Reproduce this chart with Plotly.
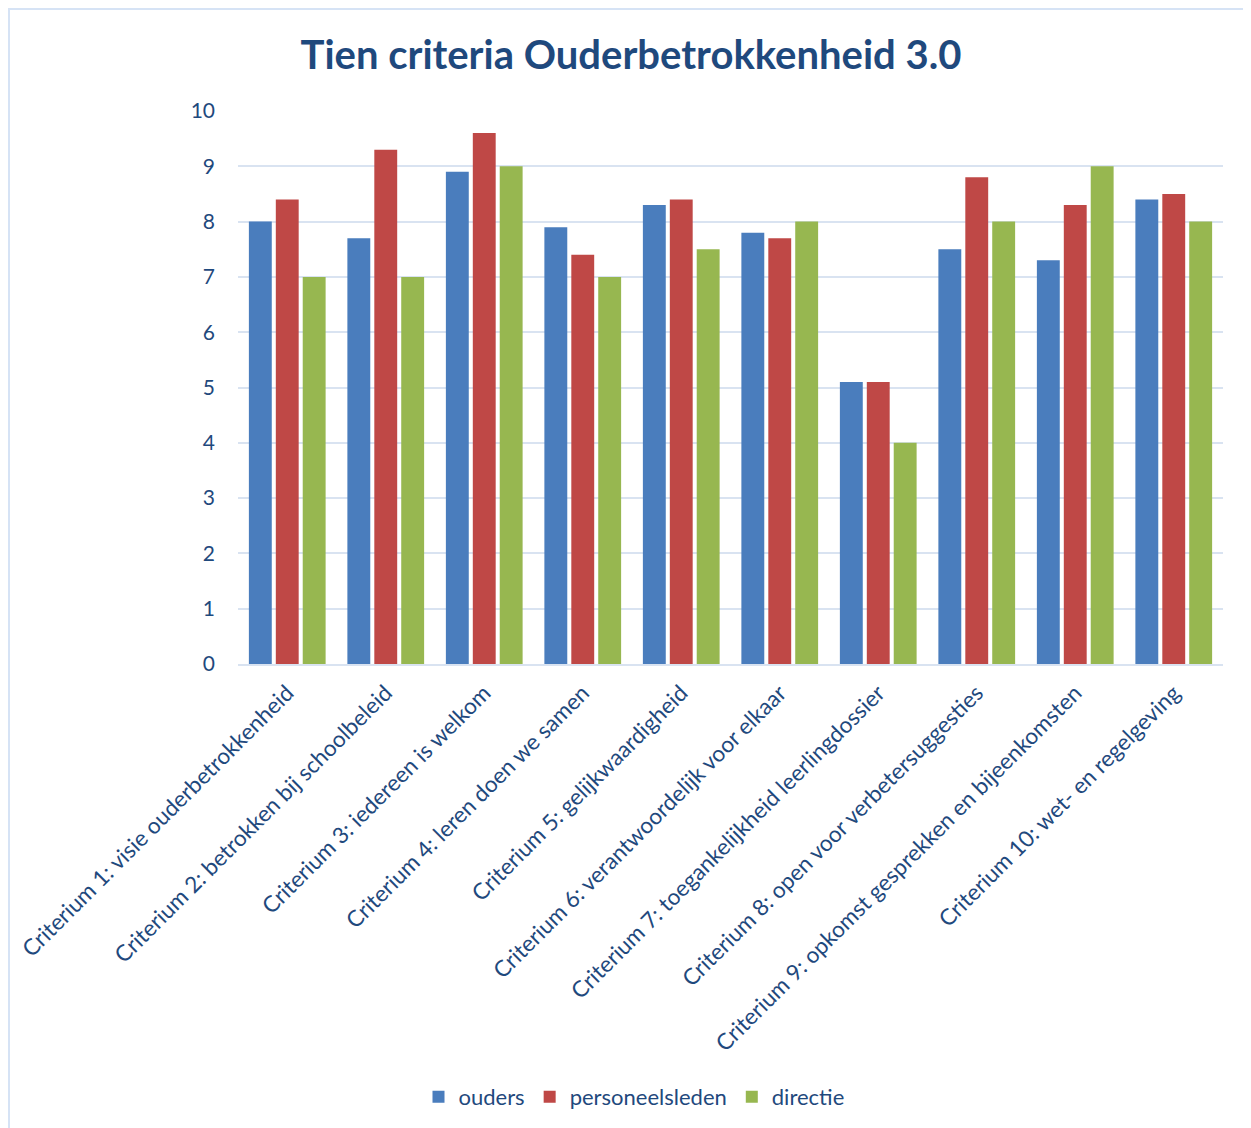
import plotly.graph_objects as go

categories = [
    "Criterium 1: visie ouderbetrokkenheid",
    "Criterium 2: betrokken bij schoolbeleid",
    "Criterium 3: iedereen is welkom",
    "Criterium 4: leren doen we samen",
    "Criterium 5: gelijkwaardigheid",
    "Criterium 6: verantwoordelijk voor elkaar",
    "Criterium 7: toegankelijkheid leerlingdossier",
    "Criterium 8: open voor verbetersuggesties",
    "Criterium 9: opkomst gesprekken en bijeenkomsten",
    "Criterium 10: wet- en regelgeving",
]
ouders = [8.0, 7.7, 8.9, 7.9, 8.3, 7.8, 5.1, 7.5, 7.3, 8.4]
personeelsleden = [8.4, 9.3, 9.6, 7.4, 8.4, 7.7, 5.1, 8.8, 8.3, 8.5]
directie = [7.0, 7.0, 9.0, 7.0, 7.5, 8.0, 4.0, 8.0, 9.0, 8.0]
y_ticks = list(range(0, 11))

# page body has an 8px margin, so figure coords = page coords - 8
OFF = 8
W, H = 1243, 1120
L, R, T, B = 238 - OFF, 28, 111 - OFF, 464
pw, ph = W - L - R, H - T - B

def px_x(p):
    return (p - OFF - L) / pw

def px_y(p):
    return (H - B - (p - OFF)) / ph

text_color = "#1F497D"
grid_color = "#D9E3F1"
font_family = "Lato, 'Open Sans', sans-serif"

fig = go.Figure()
fig.add_trace(go.Bar(name="ouders", x=categories, y=ouders, marker=dict(color="#4A7DBD", line=dict(width=0))))
fig.add_trace(go.Bar(name="personeelsleden", x=categories, y=personeelsleden, marker=dict(color="#BF4846", line=dict(width=0))))
fig.add_trace(go.Bar(name="directie", x=categories, y=directie, marker=dict(color="#97B750", line=dict(width=0))))

fig.update_layout(
    width=W, height=H,
    margin=dict(l=L, r=R, t=T, b=B, autoexpand=False),
    paper_bgcolor="white", plot_bgcolor="white",
    barmode="group", bargap=0.18, bargroupgap=0.15,
    font=dict(family=font_family, color=text_color, size=20),
    title=dict(text="<b>Tien criteria Ouderbetrokkenheid 3.0</b>",
               x=(631 - OFF) / W, xref="container", xanchor="center",
               y=1 - (55 - OFF) / H, yref="container", yanchor="middle",
               font=dict(size=40, color=text_color, family=font_family)),
    legend=dict(orientation="h", x=px_x(634), xanchor="center", y=px_y(1097), yanchor="middle",
                font=dict(size=22, color=text_color), itemwidth=30, traceorder="normal"),
    showlegend=True,
)
fig.update_xaxes(tickangle=-45, showgrid=False, showline=True, linecolor=grid_color, linewidth=2,
                 ticks="", ticklabelstandoff=5, tickfont=dict(size=22.5, color=text_color))
fig.update_yaxes(range=[0, 10], tickvals=y_ticks, showgrid=True, gridcolor=grid_color, gridwidth=2,
                 zeroline=False, showline=False, ticks="", ticklabelstandoff=22,
                 tickfont=dict(size=21, color=text_color))

fig.add_shape(type="rect", xref="paper", yref="paper",
              x0=px_x(9), x1=px_x(1270), y0=px_y(1140), y1=px_y(9),
              line=dict(color="#D6E3F5", width=2), fillcolor="rgba(0,0,0,0)", layer="below")

fig.write_html("out.html")
